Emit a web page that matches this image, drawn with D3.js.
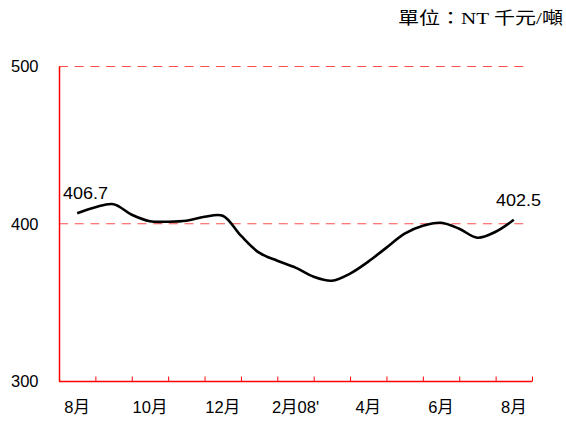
<!DOCTYPE html>
<html><head><meta charset="utf-8">
<script src="https://cdn.jsdelivr.net/npm/d3@7/dist/d3.min.js"></script>
<style>body{margin:0;background:#fff}svg{display:block}</style>
</head><body>
<svg id="c" width="566" height="421"></svg>
<script>
const months = ["8月","9月","10月","11月","12月","1月","2月","3月","4月","5月","6月","7月","8月"];
const monthLabels = ["8月","","10月","","12月","","2月08'","","4月","","6月","","8月"];
const yTicks = [300, 400, 500];
// semi-monthly prices, NT thousand / ton, Aug 07 -> Aug 08
const values = [406.7,410.5,412.4,405.7,401.6,401.3,401.9,404.4,405.1,392.4,381.6,376.5,
                372.1,366.3,363.8,368.3,375.9,384.8,393.7,398.7,400.6,396.8,391.1,394.9,402.5];
const title = "單位：NT 千元/噸";

const svg = d3.select("#c");
const x = d3.scaleLinear().domain([0, months.length]).range([59, 532]);
const y = d3.scaleLinear().domain([300, 500]).range([381, 66.5]);
const red = "#ff0000";

// gridlines
svg.append("g").selectAll("line").data(yTicks.filter(d => d > 300)).join("line")
  .attr("x1", 59).attr("x2", 527).attr("y1", d => y(d)).attr("y2", d => y(d))
  .attr("stroke", "#ff4d4d").attr("stroke-width", 1).attr("stroke-dasharray", "9,6.7");

// y axis
const yAxis = d3.axisLeft(y).tickValues(yTicks).tickSize(0).tickPadding(21);
const gy = svg.append("g").attr("transform", "translate(59.5,0)").call(yAxis);
gy.select(".domain").remove();
gy.append("line").attr("x1", 0).attr("x2", 0).attr("y1", y(500)).attr("y2", y(300) + 0.5)
  .attr("stroke", red).attr("stroke-width", 1.5);
gy.selectAll("text").attr("font-family", "Liberation Sans, Arial, sans-serif").attr("font-size", 16.5).attr("fill", "#000");

// x axis
const xAxis = d3.axisBottom(x).tickValues(d3.range(0, months.length + 1)).tickSize(-5).tickFormat("");
const gx = svg.append("g").attr("transform", "translate(0,381.5)").call(xAxis);
gx.select(".domain").remove();
gx.append("line").attr("x1", 59).attr("x2", x(months.length)).attr("y1", 0).attr("y2", 0)
  .attr("stroke", red).attr("stroke-width", 1.5);
gx.selectAll(".tick line").attr("stroke", red);

svg.append("g").selectAll("text").data(monthLabels).join("text")
  .attr("x", (d, i) => x(i + 0.5)).attr("y", 413)
  .attr("text-anchor", "middle")
  .attr("font-family", "Liberation Sans, Arial, 'Noto Sans CJK TC', sans-serif")
  .attr("font-size", 16.5).attr("fill", "#000")
  .text(d => d);

// line
const pts = values.map((v, k) => [x(0.5 + k * 0.5), y(v)]);
svg.append("path").datum(pts)
  .attr("fill", "none").attr("stroke", "#000").attr("stroke-width", 2.6)
  .attr("stroke-linejoin", "round")
  .attr("d", d3.line().curve(d3.curveCatmullRom.alpha(0.5)));

// end labels
const lbl = (v, px, py) => svg.append("text").attr("x", px).attr("y", py)
  .attr("font-family", "Liberation Sans, Arial, sans-serif").attr("font-size", 16.5)
  .attr("textLength", 45).attr("lengthAdjust", "spacingAndGlyphs")
  .attr("fill", "#000").text(v.toFixed(1));
lbl(values[0], 63, 199);
lbl(values[values.length - 1], 496, 206);

// unit title
svg.append("text").attr("x", 398).attr("y", 24)
  .attr("font-family", "'Liberation Serif', 'Noto Sans CJK TC', serif")
  .attr("font-size", 17.5).attr("textLength", 165).attr("lengthAdjust", "spacingAndGlyphs")
  .attr("fill", "#000").text(title);
</script>
</body></html>
